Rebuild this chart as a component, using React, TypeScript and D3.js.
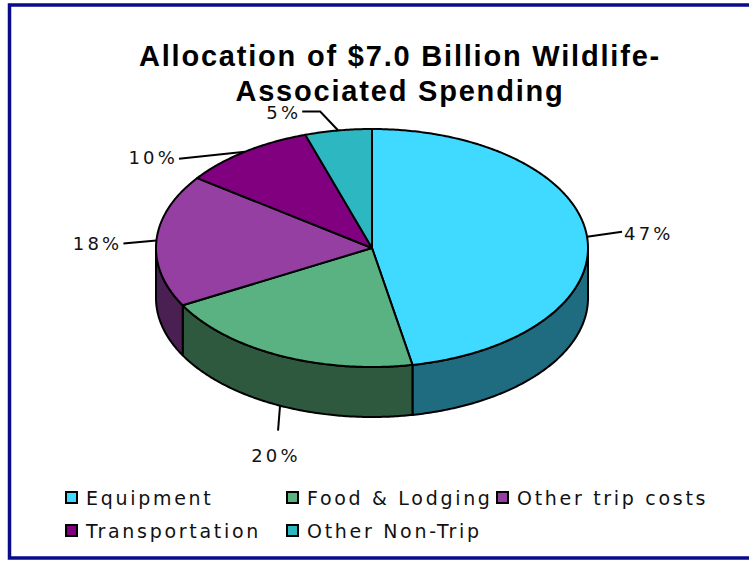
import React from 'react';
import * as d3 from 'd3';

const categories = ['Equipment', 'Food & Lodging', 'Other trip costs', 'Transportation', 'Other Non-Trip'];
const values = [47, 20, 18, 10, 5];
const valueLabels = ['47%', '20%', '18%', '10%', '5%'];
const titleLines = ['Allocation of $7.0 Billion Wildlife-', 'Associated Spending'];

const topColors = ['#40D9FF', '#5AB282', '#943FA1', '#800080', '#2DB7C0'];
const sideColors = ['#1F6C80', '#2E593F', '#4A1F51', '#400040', '#176068'];

const W = 749;
const H = 561;
const cx = 372;
const cy = 248;
const rx = 216;
const ry = 119;
const depth = 50;

// leader-line layout (offsets from slice anchor on the rim)
const labelLayout = [
  { elbows: [[35, -5]], text: [37, -3], anchor: 'start' },
  { elbows: [[-2, 25]], text: [-4, 50], anchor: 'middle' },
  { elbows: [[-33, 3]], text: [-34, 3], anchor: 'end' },
  { elbows: [[-66, 7]], text: [-67, 6], anchor: 'end' },
  { elbows: [[-18, -19], [-36, -19]], text: [-37, -18], anchor: 'end' },
];

const legendCols = [66, 287, 497];
const legendRows = [498, 531];
const legendPos = [[0, 0], [1, 0], [2, 0], [0, 1], [1, 1]];

function pt(a: number, dy = 0): [number, number] {
  return [cx + rx * Math.sin(a), cy - ry * Math.cos(a) + dy];
}

function arcPts(a0: number, a1: number, dy = 0): [number, number][] {
  const n = Math.max(2, Math.ceil(Math.abs(a1 - a0) / 0.01));
  const out: [number, number][] = [];
  for (let i = 0; i <= n; i++) out.push(pt(a0 + ((a1 - a0) * i) / n, dy));
  return out;
}

export default function App() {
  const pie = d3.pie<number>().sort(null).startAngle(0).endAngle(2 * Math.PI);
  const arcs = pie(values);
  const line = d3.line();

  const sides = arcs.map((a, i) => {
    const s = Math.max(a.startAngle, Math.PI / 2);
    const e = Math.min(a.endAngle, (3 * Math.PI) / 2);
    if (s >= e) return null;
    const pts = [...arcPts(s, e), ...arcPts(e, s, depth)];
    return <path key={'s' + i} d={line(pts) + 'Z'} fill={sideColors[i]} stroke="#000" strokeWidth={2} strokeLinejoin="round" />;
  });

  const tops = arcs.map((a, i) => {
    const pts: [number, number][] = [[cx, cy], ...arcPts(a.startAngle, a.endAngle)];
    return <path key={'t' + i} d={line(pts) + 'Z'} fill={topColors[i]} stroke="#000" strokeWidth={2} strokeLinejoin="round" />;
  });

  const labels = arcs.map((a, i) => {
    const mid = (a.startAngle + a.endAngle) / 2;
    const front = mid > Math.PI / 2 && mid < (3 * Math.PI) / 2;
    const anc = pt(mid, front ? depth : 0);
    const L = labelLayout[i];
    const pts: [number, number][] = [anc, ...L.elbows.map(([dx, dy]) => [anc[0] + dx, anc[1] + dy] as [number, number])];
    return (
      <g key={'l' + i}>
        <path d={line(pts) || ''} fill="none" stroke="#000" strokeWidth={2} />
        <text x={anc[0] + L.text[0]} y={anc[1] + L.text[1]} textAnchor={L.anchor as any} dominantBaseline="central"
          fontFamily="DejaVu Sans, Verdana, sans-serif" fontSize={18} letterSpacing={3.2} fill="#111">
          {valueLabels[i]}
        </text>
      </g>
    );
  });

  return (
    <svg width={W} height={H} style={{ position: 'absolute', left: 0, top: 0, background: '#fff' }}>
      <rect x={0} y={0} width={W} height={H} fill="#fff" />
      <rect x={9.5} y={5} width={W + 20} height={553} fill="none" stroke="#0A0A8C" strokeWidth={3.5} />
      {titleLines.map((t, i) => (
        <text key={t} x={400} y={56 + i * 35} textAnchor="middle" dominantBaseline="central"
          fontFamily="Liberation Sans, Arial, sans-serif" fontWeight="bold" fontSize={29} letterSpacing={1.8} fill="#000">
          {t}
        </text>
      ))}
      {sides}
      {tops}
      {labels}
      {categories.map((c, i) => {
        const [col, row] = legendPos[i];
        const x = legendCols[col];
        const y = legendRows[row];
        return (
          <g key={c}>
            <rect x={x} y={y - 6} width={11} height={11} fill={topColors[i]} stroke="#000" strokeWidth={2} />
            <text x={x + 20} y={y} dominantBaseline="central" fontFamily="DejaVu Sans, Verdana, sans-serif"
              fontSize={19} letterSpacing={2.7} fill="#111">
              {c}
            </text>
          </g>
        );
      })}
    </svg>
  );
}
